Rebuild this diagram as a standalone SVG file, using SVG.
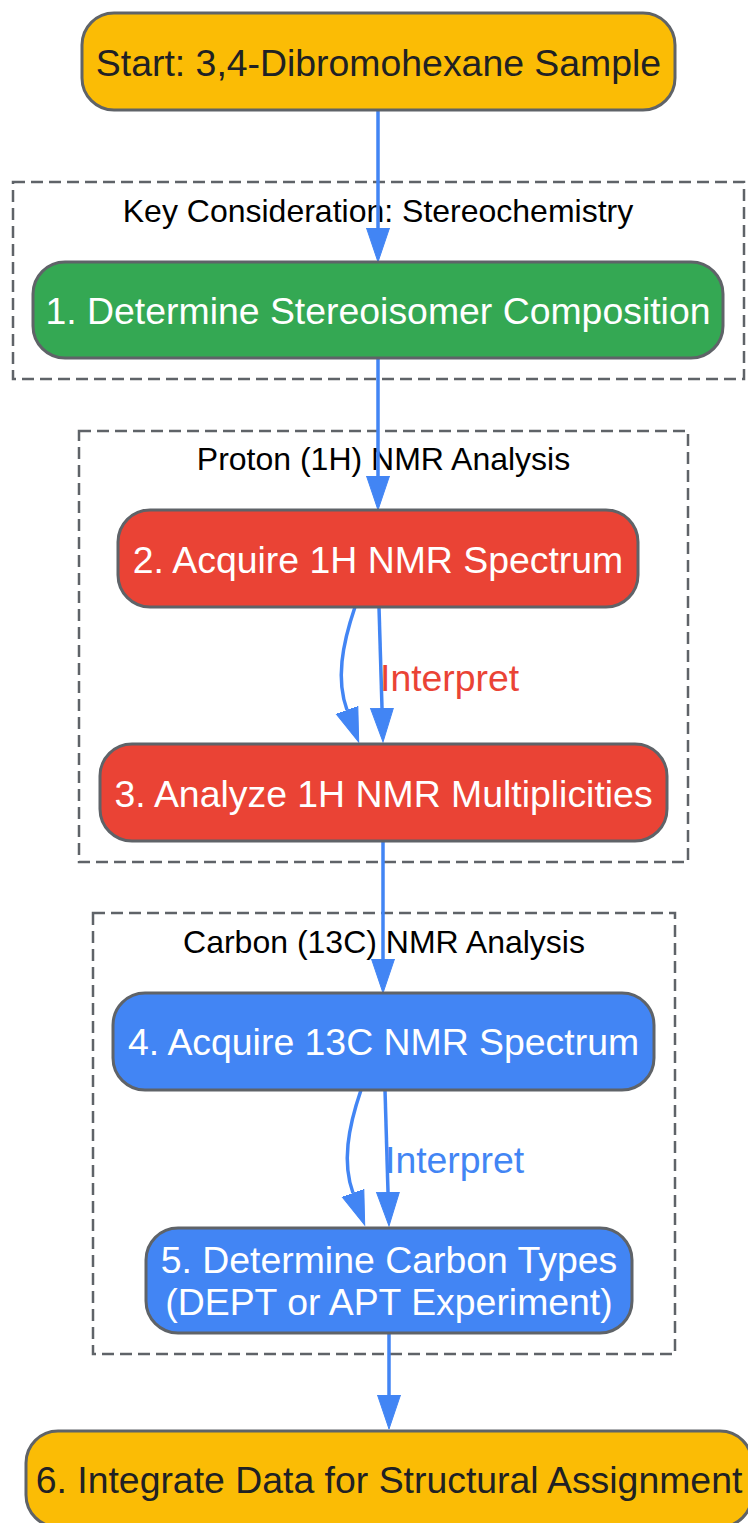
<svg xmlns="http://www.w3.org/2000/svg" width="748" height="1523" viewBox="0 0 748 1523">
<style>
.cluster rect{fill:none;stroke:#5f6368;stroke-width:2.5;stroke-dasharray:12,6}
.cluster text{font-family:"Liberation Sans",Arial,sans-serif;font-size:32px;fill:#000;text-anchor:middle}
.node rect{stroke:#5f6368;stroke-width:3}
.node text{font-family:"Liberation Sans",Arial,sans-serif;font-size:37.4px;text-anchor:middle;fill:#fff}
.edge{fill:none;stroke:#4285F4;stroke-width:3.5;marker-end:url(#arr)}
.elabel{font-family:"Liberation Sans",Arial,sans-serif;font-size:37.4px}
</style>
<defs>
<marker id="arr" markerUnits="userSpaceOnUse" viewBox="0 -13 36 26" refX="0" refY="0" markerWidth="36" markerHeight="26" orient="auto">
<path d="M0,-11.5 L34,0 L0,11.5 Z" fill="#4285F4" stroke="#4285F4" stroke-width="1"/>
</marker>
</defs>
<g id="clusters">
<g id="cluster_stereo" class="cluster"><rect x="13" y="182" width="731" height="197"/><text x="378" y="222">Key Consideration: Stereochemistry</text></g>
<g id="cluster_h1" class="cluster"><rect x="79" y="431" width="609" height="431"/><text x="383.5" y="470">Proton (1H) NMR Analysis</text></g>
<g id="cluster_c13" class="cluster"><rect x="93" y="913" width="582" height="441"/><text x="384" y="953">Carbon (13C) NMR Analysis</text></g>
</g>
<g id="connectors">
<path class="edge" d="M378,110 L378,228"/>
<path class="edge" d="M378,358 L378,476"/>
<path class="edge" d="M355,607 C342,645 336,680 347,710"/>
<path class="edge" d="M379,607 L382,708"/>
<text class="elabel" x="380" y="691" fill="#EA4335">Interpret</text>
<path class="edge" d="M383,841 L383,959"/>
<path class="edge" d="M361,1090 C348,1128 342,1163 353,1193"/>
<path class="edge" d="M385,1090 L388,1192"/>
<text class="elabel" x="385" y="1173" fill="#4285F4">Interpret</text>
<path class="edge" d="M389,1333 L389,1395"/>
</g>
<g id="start" class="node"><rect x="82" y="13" width="593" height="97" rx="32" fill="#FBBC05"/><text x="378.5" y="76" style="fill:#202124">Start: 3,4-Dibromohexane Sample</text></g>
<g id="step1" class="node"><rect x="33" y="262" width="690" height="96" rx="32" fill="#34A853"/><text x="378" y="324">1. Determine Stereoisomer Composition</text></g>
<g id="step2" class="node"><rect x="118" y="510" width="520" height="97" rx="32" fill="#EA4335"/><text x="378" y="573">2. Acquire 1H NMR Spectrum</text></g>
<g id="step3" class="node"><rect x="100" y="744" width="567" height="97" rx="32" fill="#EA4335"/><text x="383.5" y="807">3. Analyze 1H NMR Multiplicities</text></g>
<g id="step4" class="node"><rect x="113" y="993" width="541" height="97" rx="32" fill="#4285F4"/><text x="383.5" y="1055">4. Acquire 13C NMR Spectrum</text></g>
<g id="step5" class="node"><rect x="146" y="1228" width="486" height="105" rx="32" fill="#4285F4"/><text x="389" y="1273">5. Determine Carbon Types</text><text x="389" y="1315">(DEPT or APT Experiment)</text></g>
<g id="step6" class="node"><rect x="26" y="1431" width="726" height="96" rx="32" fill="#FBBC05"/><text x="389" y="1493" style="fill:#202124">6. Integrate Data for Structural Assignment</text></g>
</svg>
